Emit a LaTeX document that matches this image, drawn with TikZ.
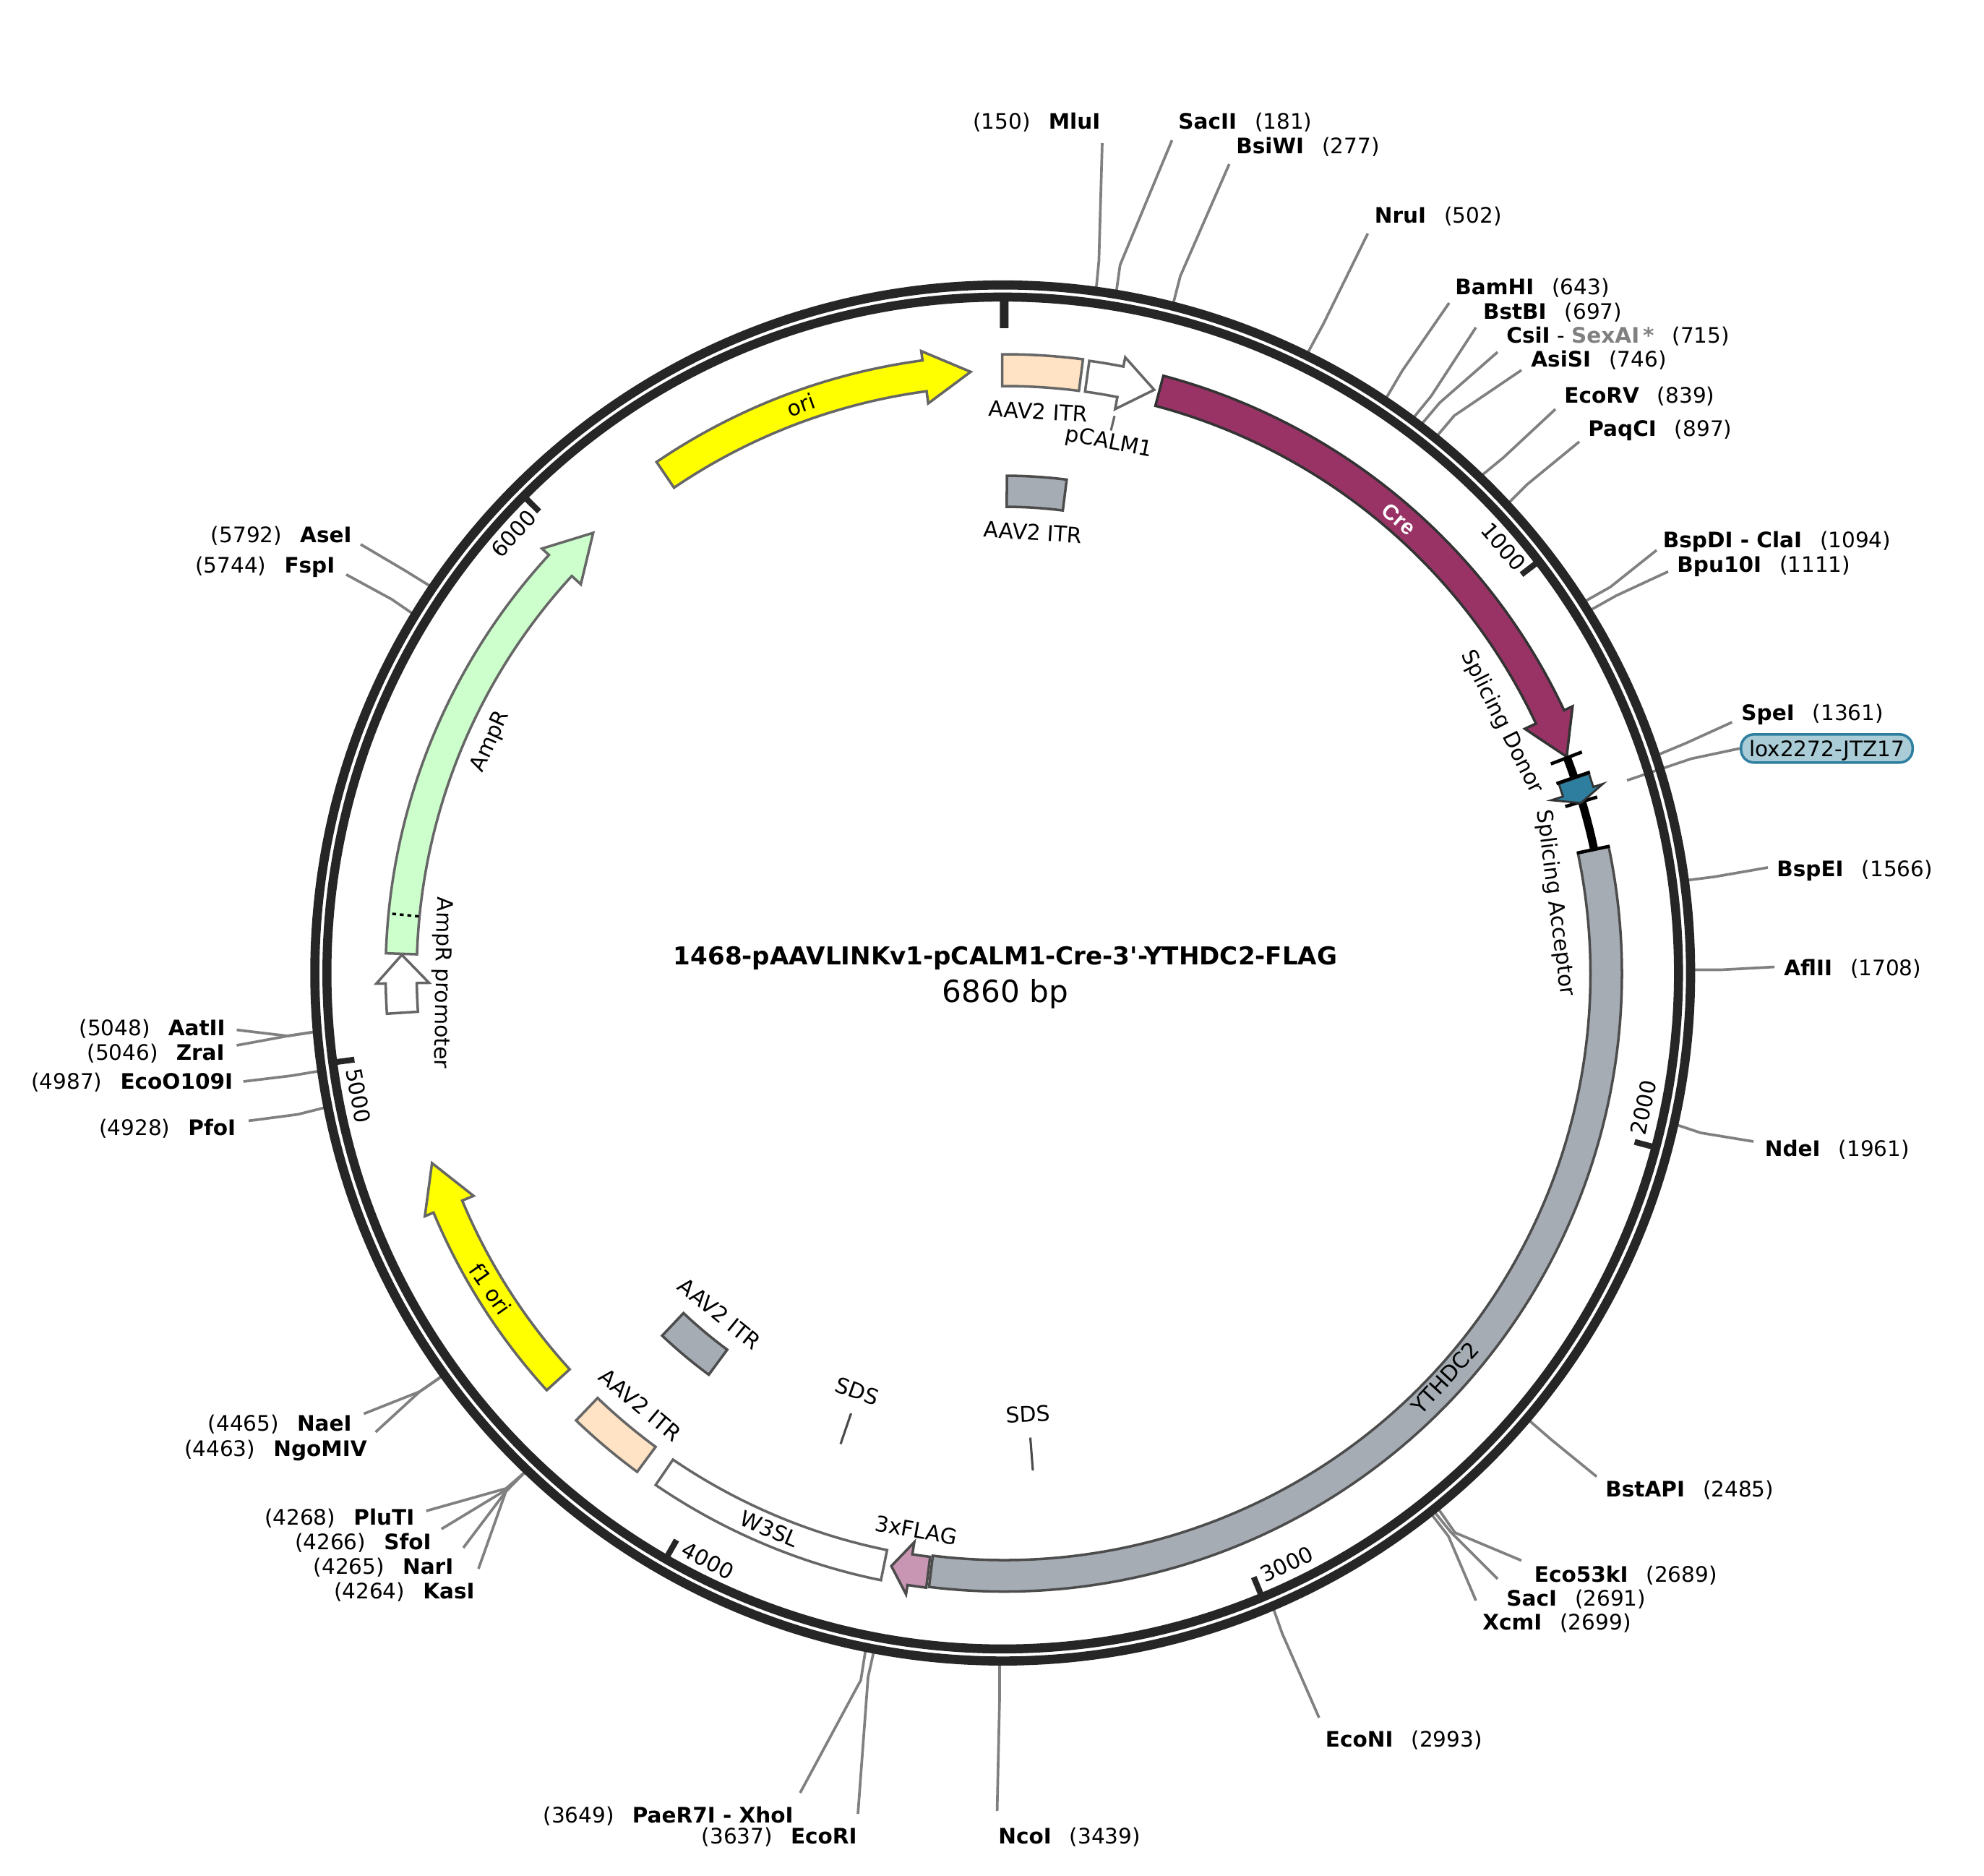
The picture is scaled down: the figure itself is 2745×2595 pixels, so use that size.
\documentclass[tikz,border=0pt]{standalone}
\usepackage{fontspec}
\setmainfont{DejaVu Sans}
\newfontfamily\crefont{Liberation Sans}
\usetikzlibrary{calc}
\usetikzlibrary{positioning}

\definecolor{ringcol}{HTML}{262626}
\definecolor{itrcol}{HTML}{FFE3C4}
\definecolor{greycol}{HTML}{A5ACB4}
\definecolor{crecol}{HTML}{993366}
\definecolor{loxcol}{HTML}{2E7F9F}
\definecolor{loxfill}{HTML}{A9CCD6}
\definecolor{flagcol}{HTML}{C896B2}
\definecolor{ampcol}{HTML}{CCFFCC}
\definecolor{oricol}{RGB}{255,255,0}

% angles count clockwise from the top, radii in pixels
\newcommand{\featarrow}[4]{
	\draw[#1] (90-#2:856) arc[start angle=90-#2,end angle=90-#3,radius=856*0.02cm] -- (90-#3:869) -- (90-#4:834) -- (90-#3:796) -- (90-#3:813) arc[start angle=90-#3,end angle=90-#2,radius=813*0.02cm] -- cycle;
}
\newcommand{\featbox}[5]{
	\draw[#1] (90-#2:#5) arc[start angle=90-#2,end angle=90-#3,radius=#5*0.02cm] -- (90-#3:#4) arc[start angle=90-#3,end angle=90-#2,radius=#4*0.02cm] -- cycle;
}
\newcommand{\cutline}[4]{
	\coordinate (#1a) at (#2);
	\coordinate (#1b) at (#3);
	\coordinate (#1c) at (#4);
	\draw[cutline,shorten >=-3pt] (#1a) -- (#1b) -- (#1c);
}
\newcommand{\enzR}[2]{\textbf{#1}\hspace{.85em}(#2)}
\newcommand{\enzL}[2]{(#2)\hspace{.85em}\textbf{#1}}

\begin{document}
\begin{tikzpicture}
	[
	x=0.02cm,y=0.02cm,
	enz/.style = {font=\fontsize{16.8pt}{19pt}\selectfont,inner sep=0pt,text height=0.43cm,text depth=0pt},
	cutline/.style = {draw=black!50,line width=2.1pt},
	ring/.style = {draw=ringcol},
	ticks/.style = {draw=ringcol,line width=4.6pt},
	lab/.style = {font=\fontsize{17pt}{19pt}\selectfont,inner sep=0pt},
	feat/.style = {draw=black!60,line width=2pt,line join=miter},
	darkfeat/.style = {draw=black!70,line width=2pt,line join=miter},
	spine/.style = {draw=black,line width=6.4pt},
	bar/.style = {draw=black,line width=2.6pt}
	]

	\useasboundingbox (0,0) rectangle (2745,-2595);

	% sites, top then clockwise
	\node[enz,anchor=west] (MluI) at (1346,-168) {\enzL{MluI}{150}};
	\cutline{MluI}{1525,-198}{1520.4,-361}{1517,-396}
	\node[enz,anchor=west] (SacII) at (1630,-168) {\enzR{SacII}{181}};
	\cutline{SacII}{1621.5,-194}{1549.7,-366.5}{1545,-400}
	\node[enz,anchor=west] (BsiWI) at (1710,-202) {\enzR{BsiWI}{277}};
	\cutline{BsiWI}{1700.7,-227}{1633,-382}{1624,-417}
	\node[enz,anchor=west] (NruI) at (1901.6,-298) {\enzR{NruI}{502}};
	\cutline{NruI}{1892.4,-323}{1831,-448}{1811,-485}
	\node[enz,anchor=west] (BamHI) at (2013,-397) {\enzR{BamHI}{643}};
	\cutline{BamHI}{2005,-419}{1940,-513}{1920,-547}
	\node[enz,anchor=west] (BstBI) at (2051.7,-431) {\enzR{BstBI}{697}};
	\cutline{BstBI}{2042,-453}{1980,-548}{1958,-575}
	\node[enz,anchor=west] (CsiI) at (2084,-464) {\textbf{CsiI} - \textcolor{black!50}{\textbf{SexAI\,*}}\hspace{.85em}(715)};
	\cutline{CsiI}{2072,-487}{1992,-557}{1970,-583}
	\node[enz,anchor=west] (AsiSI) at (2118,-497) {\enzR{AsiSI}{746}};
	\cutline{AsiSI}{2105,-512}{2012,-575}{1990,-601}
	\node[enz,anchor=west] (EcoRV) at (2164,-547) {\enzR{EcoRV}{839}};
	\cutline{EcoRV}{2152,-566}{2080,-633}{2052,-656}
	\node[enz,anchor=west] (PaqCI) at (2197,-593) {\enzR{PaqCI}{897}};
	\cutline{PaqCI}{2185,-611}{2113,-670}{2090,-693}
	\node[enz,anchor=west] (ClaI) at (2300.5,-747) {\enzR{BspDI - ClaI}{1094}};
	\cutline{ClaI}{2292,-761}{2228,-812}{2196,-830}
	\node[enz,anchor=west] (Bpu) at (2320,-781) {\enzR{Bpu10I}{1111}};
	\cutline{Bpu}{2308,-790.6}{2236,-824}{2204,-842}
	\node[enz,anchor=west] (SpeI) at (2409,-986) {\enzR{SpeI}{1361}};
	\cutline{SpeI}{2396.4,-999}{2332.6,-1028}{2298,-1042.4}
	\node[enz,anchor=west] (BspEI) at (2458,-1202) {\enzR{BspEI}{1566}};
	\cutline{BspEI}{2446,-1200}{2371,-1213}{2339,-1217}
	\node[enz,anchor=west] (AflII) at (2468,-1339) {\enzR{AflII}{1708}};
	\cutline{AflII}{2455,-1337.5}{2381,-1341.5}{2348,-1341.5}
	\node[enz,anchor=west] (NdeI) at (2441.5,-1589) {\enzR{NdeI}{1961}};
	\cutline{NdeI}{2426,-1579}{2353,-1567}{2323,-1557}
	\node[enz,anchor=west] (BstAPI) at (2221,-2060) {\enzR{BstAPI}{2485}};
	\cutline{BstAPI}{2209,-2042.5}{2147,-1992}{2117,-1966}
	\node[enz,anchor=west] (Eco53) at (2122.5,-2178) {\enzR{Eco53kI}{2689}};
	\cutline{Eco53}{2105,-2158.6}{2013,-2120}{1992,-2090}
	\node[enz,anchor=west] (SacI) at (2084,-2211) {\enzR{SacI}{2691}};
	\cutline{SacI}{2072,-2184}{2007,-2119}{1986,-2093}
	\node[enz,anchor=west] (XcmI) at (2051,-2244) {\enzR{XcmI}{2699}};
	\cutline{XcmI}{2042,-2214}{2004,-2125}{1982,-2096.5}
	\node[enz,anchor=west] (EcoNI) at (1833.5,-2406) {\enzR{EcoNI}{2993}};
	\cutline{EcoNI}{1825,-2376}{1774,-2259.5}{1763,-2228.4}
	\node[enz,anchor=west] (NcoI) at (1381,-2540) {\enzR{NcoI}{3439}};
	\cutline{NcoI}{1379.6,-2505}{1383,-2349}{1383,-2304}
	\node[enz,anchor=east] (EcoRI) at (1186,-2540) {\enzL{EcoRI}{3637}};
	\cutline{EcoRI}{1187,-2509}{1201,-2320}{1208,-2288.5}
	\node[enz,anchor=east] (XhoI) at (1098,-2511) {\enzL{PaeR7I - XhoI}{3649}};
	\cutline{XhoI}{1107,-2480}{1191,-2324}{1196.5,-2289}
	\node[enz,anchor=east] (KasI) at (657,-2200.5) {\enzL{KasI}{4264}};
	\cutline{KasI}{662,-2170}{700,-2063}{724.4,-2038}
	\node[enz,anchor=east] (NarI) at (627.6,-2167) {\enzL{NarI}{4265}};
	\cutline{NarI}{641,-2141}{700,-2063}{724.4,-2038}
	\node[enz,anchor=east] (SfoI) at (597,-2133) {\enzL{SfoI}{4266}};
	\cutline{SfoI}{610.8,-2115}{700,-2061}{724.4,-2038}
	\node[enz,anchor=east] (PluTI) at (573.6,-2099) {\enzL{PluTI}{4268}};
	\cutline{PluTI}{589.7,-2090}{700,-2059}{724.4,-2038}
	\node[enz,anchor=east] (NgoMIV) at (508,-2004) {\enzL{NgoMIV}{4463}};
	\cutline{NgoMIV}{519.6,-1981}{580.6,-1925}{608.7,-1905.6}
	\node[enz,anchor=east] (NaeI) at (487,-1969) {\enzL{NaeI}{4465}};
	\cutline{NaeI}{503.4,-1955.6}{580.6,-1925}{608.7,-1905.6}
	\node[enz,anchor=east] (PfoI) at (326.5,-1560) {\enzL{PfoI}{4928}};
	\cutline{PfoI}{344,-1550.4}{412,-1541.5}{447.4,-1532.6}
	\node[enz,anchor=east] (EcoO) at (322.5,-1496) {\enzL{EcoO109I}{4987}};
	\cutline{EcoO}{336.7,-1496}{403,-1488}{439,-1482}
	\node[enz,anchor=east] (ZraI) at (311,-1456) {\enzL{ZraI}{5046}};
	\cutline{ZraI}{327.5,-1446}{398,-1433}{431,-1428}
	\node[enz,anchor=east] (AatII) at (312,-1422) {\enzL{AatII}{5048}};
	\cutline{AatII}{327.5,-1424.6}{398,-1433}{431,-1428}
	\node[enz,anchor=east] (FspI) at (463.7,-781.5) {\enzL{FspI}{5744}};
	\cutline{FspI}{479,-794.7}{542,-829}{569,-847.5}
	\node[enz,anchor=east] (AseI) at (487,-739.7) {\enzL{AseI}{5792}};
	\cutline{AseI}{499,-753}{560,-789}{593,-809.4}

	\node[enz,draw=loxcol,fill=loxfill,line width=2pt,rounded corners=0.36cm,minimum width=4.75cm,minimum height=0.78cm,anchor=center] (lox) at (2527.5,-1035.3) {lox2272-JTZ17};
	\coordinate (loxb) at (2340,-1049.5);
	\coordinate (loxc) at (2251,-1079.5);
	\draw[cutline] (lox.west) -- (loxb) -- (loxc);

	\node[font=\fontsize{19.4pt}{21pt}\selectfont\bfseries,inner sep=0pt] (title) at (1391,-1325) {1468-pAAVLINKv1-pCALM1-Cre-3\textquotesingle-YTHDC2-FLAG};
	\node[font=\fontsize{24pt}{26pt}\selectfont,inner sep=0pt,below=0.26cm of title] (size) {6860 bp};

	\begin{scope}[shift={(1387.3,-1345.9)}]

	\draw[ring,line width=7.2pt] (0,0) circle[radius=951.7*0.02cm];
	\draw[ring,line width=7.1pt] (0,0) circle[radius=935*0.02cm];

	\draw[ticks,line width=6.8pt] (89.87:892) -- (89.87:930);
	\draw[ticks] (90-52.48:905) -- (90-52.48:930);
	\draw[ticks] (90-104.96:905) -- (90-104.96:930);
	\draw[ticks] (90-157.43:905) -- (90-157.43:930);
	\draw[ticks] (90-209.91:905) -- (90-209.91:930);
	\draw[ticks] (90-262.39:905) -- (90-262.39:930);
	\draw[ticks] (90-314.87:905) -- (90-314.87:930);

	\end{scope}

	\begin{scope}[shift={(1389.5,-1347)}]

	\node[lab,rotate=-49.4] (t1000) at (690.6,591) {1000};
	\node[lab,rotate=78.2] (t2000) at (884,-185) {2000};
	\node[lab,rotate=25.6] (t3000) at (390.8,-816.5) {3000};
	\node[lab,rotate=-28] (t4000) at (-410,-811.7) {4000};
	\node[lab,rotate=-79.3] (t5000) at (-893.5,-168.6) {5000};
	\node[lab,rotate=48] (t6000) at (-679,609) {6000};

	% features
	\featarrow{feat,fill=oricol}{-34.2}{-7.6}{-3.2}
	\node[lab,rotate=19.7] (oriLab) at (-281.5,787) {ori};
	\featbox{feat,fill=itrcol}{-0.2}{7.3}{813}{857}
	\node[lab,rotate=-3.5] (itrA) at (47,778) {AAV2 ITR};
	\featbox{darkfeat,fill=greycol}{0.3}{7.2}{646}{689}
	\node[lab,rotate=-3.7] (itrB) at (39.7,611) {AAV2 ITR};
	\featarrow{feat,fill=white}{7.9}{11.1}{14.4}
	\coordinate (pcalA) at (152.5,771.6);
	\coordinate (pcalB) at (147.5,751.5);
	\draw[draw=black!60,line width=1.8pt] (pcalA) -- (pcalB);
	\node[lab,rotate=-11] (pcal) at (144.7,734) {pCALM1};

	\featarrow{draw=black!80,line width=2pt,fill=crecol}{14.9}{64.8}{68.9}
	\node[lab,rotate=-41,text=white] (creLab) at (546,629) {\crefont\bfseries Cre};

	\draw[spine] (90-69:834) arc[start angle=90-69,end angle=90-71.1,radius=834*0.02cm];
	\draw[spine] (90-73.4:834) arc[start angle=90-73.4,end angle=90-78.1,radius=834*0.02cm];
	\draw[bar] (90-69:810) -- (90-69:856);
	\draw[bar] (90-73.4:810) -- (90-73.4:856);
	\draw[draw=black!80,line width=1.6pt,fill=loxcol] (90-71.1:855) -- (90-72.4:855) -- (90-72.4:869) -- (90-73.5:832) -- (90-72.4:794) -- (90-72.4:811) -- (90-71.1:811) -- cycle;
	\draw[bar] (90-71:808) -- (90-71:857);
	\node[lab,rotate=-63.2] (donor) at (688,348) {Splicing Donor};
	\node[lab,rotate=-82.7] (acceptor) at (762,98) {Splicing Acceptor};

	\featbox{darkfeat,fill=greycol}{78.1}{187}{811}{854.5}
	\draw[bar] (90-78.1:810) -- (90-78.1:856);
	\node[lab,rotate=47.5] (ythdc) at (610,-559) {YTHDC2};
	\featarrow{darkfeat,fill=flagcol}{-172.75}{-171}{-169.2}
	\node[lab,rotate=-10] (flag) at (-122,-769.6) {3xFLAG};

	\coordinate (sdsAa) at (-212,-608);
	\coordinate (sdsAb) at (-226.5,-650.4);
	\draw[draw=black!70,line width=1.8pt] (sdsAa) -- (sdsAb);
	\node[lab,rotate=-19.5] (sdsA) at (-203.5,-577) {SDS};
	\coordinate (sdsBa) at (36,-641.5);
	\coordinate (sdsBb) at (39.5,-687);
	\draw[draw=black!70,line width=1.8pt] (sdsBa) -- (sdsBb);
	\node[lab,rotate=3] (sdsB) at (33,-609) {SDS};

	\featbox{feat,fill=white}{-168.5}{-145.7}{813.5}{856}
	\node[lab,rotate=-23] (w3sl) at (-325,-768) {W3SL};
	\featbox{feat,fill=itrcol}{-143.6}{-136.2}{813}{856}
	\node[lab,rotate=-40] (itrC) at (-503.7,-596) {AAV2 ITR};
	\featbox{darkfeat,fill=greycol}{-143.6}{-136.6}{646}{689}
	\node[lab,rotate=-39] (itrD) at (-393.5,-470) {AAV2 ITR};

	\featarrow{feat,fill=oricol}{-132.3}{-112.7}{-108.3}
	\node[lab,rotate=-55] (fori) at (-711,-435.6) {f1 ori};

	\featarrow{feat,fill=white}{-93.7}{-90.9}{-88.2}
	\node[lab,rotate=-91] (amppr) at (-778.7,-12.4) {AmpR promoter};
	\featarrow{feat,fill=ampcol}{-88.1}{-47.4}{-43}
	\draw[draw=black,line width=2pt,dash pattern=on 3pt off 3pt] (90+84.4:814) -- (90+84.4:856);
	\node[lab,rotate=65.7] (ampr) at (-710.5,321.3) {AmpR};

	\end{scope}

\end{tikzpicture}
\end{document}
